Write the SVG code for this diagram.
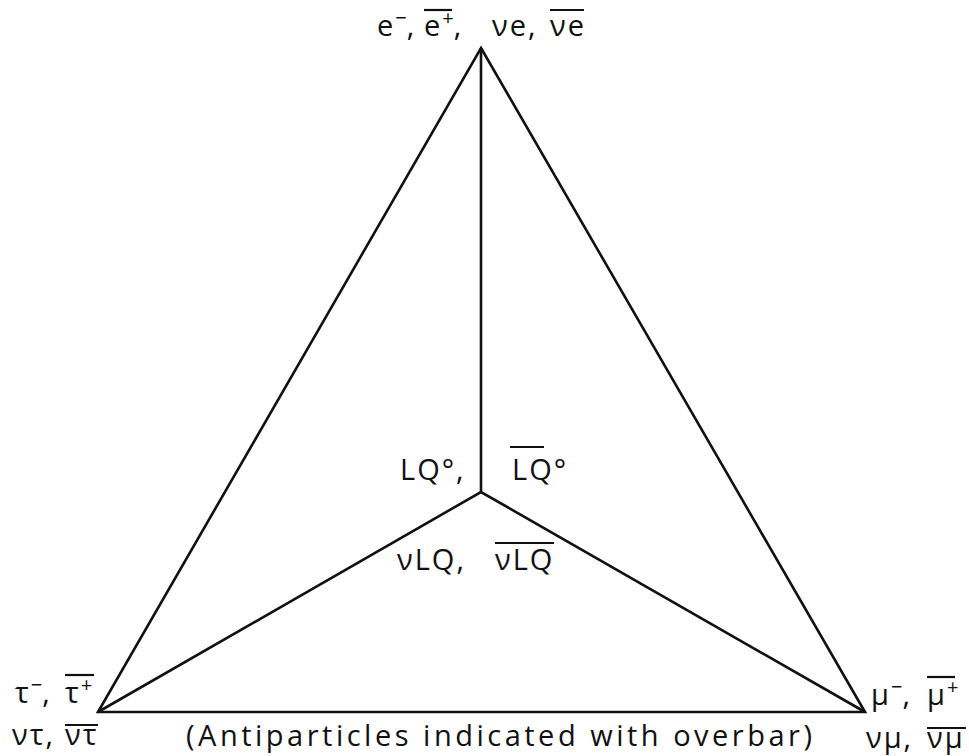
<svg xmlns="http://www.w3.org/2000/svg" width="969" height="756" viewBox="0 0 969 756">
<style>
text{font-family:"Open Sans","DejaVu Sans",sans-serif;font-size:29px;fill:#111;letter-spacing:2px}
.sup{font-size:20px;letter-spacing:0}
.e{stroke:#111;stroke-width:2.6;fill:none;stroke-linejoin:miter}
.bar{stroke:#111;stroke-width:2.2}
</style>
<rect width="969" height="756" fill="#fff"/>
<g id="connectors">
<polygon class="e" points="481,48 865,712 98,712"/>
<polyline class="e" points="481,48 481,492"/>
<polyline class="e" points="98,712 481,492 865,712"/>
</g>
<g id="node-top">
<text x="377" y="36">e<tspan class="sup" dy="-11">−</tspan><tspan dy="11">,</tspan></text>
<text x="424" y="36">e<tspan class="sup" dy="-11">+</tspan><tspan dy="11">,</tspan></text>
<line class="bar" x1="424" y1="10" x2="452" y2="10"/>
<text x="492" y="36">νe,</text>
<text x="550" y="36">νe</text>
<line class="bar" x1="550" y1="10" x2="584" y2="10"/>
</g>
<g id="node-center">
<text x="400" y="480">LQ°,</text>
<text x="512" y="480">LQ°</text>
<line class="bar" x1="510" y1="447" x2="544" y2="447"/>
<text x="397" y="570">νLQ,</text>
<text x="495" y="570">νLQ</text>
<line class="bar" x1="495" y1="543" x2="554" y2="543"/>
</g>
<g id="node-tau">
<text x="15" y="703">τ<tspan class="sup" dy="-11">−</tspan><tspan dy="11">,</tspan></text>
<text x="65" y="703">τ<tspan class="sup" dy="-11">+</tspan></text>
<line class="bar" x1="65" y1="675" x2="94" y2="675"/>
<text x="12" y="745">ντ,</text>
<text x="65" y="745">ντ</text>
<line class="bar" x1="65" y1="725" x2="98" y2="725"/>
</g>
<g id="node-mu">
<text x="871" y="705">μ<tspan class="sup" dy="-11">−</tspan><tspan dy="11">,</tspan></text>
<text x="927" y="705">μ<tspan class="sup" dy="-11">+</tspan></text>
<line class="bar" x1="927" y1="677" x2="955" y2="677"/>
<text x="866" y="748">νμ,</text>
<text x="927" y="748">νμ</text>
<line class="bar" x1="927" y1="728" x2="966" y2="728"/>
</g>
<g id="note">
<text x="186" y="746" textLength="628" lengthAdjust="spacing">(Antiparticles indicated with overbar)</text>
</g>
</svg>
